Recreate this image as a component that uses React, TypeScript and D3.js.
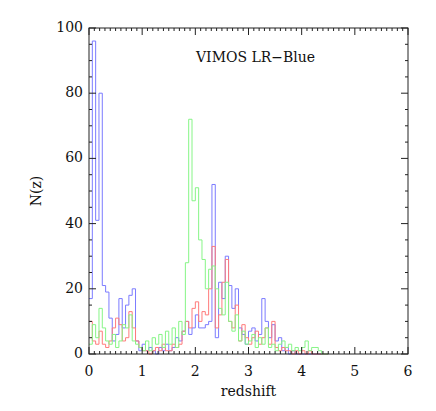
import React from "react";
import * as d3 from "d3";

const binWidth = 0.0625;

const blueCounts = [
  17, 96, 41, 80, 21, 19, 11, 4, 6, 17, 8, 15, 18, 20, 4, 1, 3, 1, 2, 1, 0, 2, 1, 3, 1, 2, 5, 4, 7, 10,
  6, 8, 12, 8, 8, 9, 10, 52, 5, 22, 17, 30, 21, 14, 20, 8, 6, 3, 7, 8, 4, 6, 17, 10, 5, 9, 4, 5, 1, 2,
  0, 1, 0, 0, 0, 0, 0, 0, 0, 0, 0, 0,
];
const redCounts = [
  10, 4, 3, 7, 3, 2, 4, 8, 11, 9, 4, 5, 13, 8, 4, 2, 1, 1, 0, 1, 2, 1, 3, 1, 1, 3, 2, 3, 7, 10,
  8, 14, 16, 10, 13, 12, 20, 33, 8, 12, 22, 29, 10, 8, 15, 4, 9, 5, 3, 5, 7, 3, 5, 8, 3, 10, 2, 1, 2, 1,
  1, 0, 1, 0, 1, 0, 1, 0, 0, 0, 0, 0,
];
const greenCounts = [
  3, 9, 5, 14, 8, 4, 3, 6, 2, 4, 9, 8, 12, 4, 3, 2, 1, 4, 1, 5, 3, 6, 2, 7, 3, 8, 2, 10, 6, 28,
  72, 47, 51, 35, 29, 20, 26, 27, 20, 14, 12, 22, 10, 7, 12, 4, 7, 3, 4, 6, 2, 5, 3, 8, 2, 3, 1, 3, 4, 2,
  3, 1, 2, 1, 2, 4, 1, 2, 2, 1, 0, 0,
];

const xTicks = [0, 1, 2, 3, 4, 5, 6];
const yTicks = [0, 20, 40, 60, 80, 100];

const W = 436;
const H = 411;
const margin = { left: 89, right: 28, top: 28, bottom: 57 };

const series = [
  { name: "blue", counts: blueCounts, color: "#7b7bff" },
  { name: "red", counts: redCounts, color: "#ff7b7b" },
  { name: "green", counts: greenCounts, color: "#86f586" },
];

export default function App() {
  const x = d3.scaleLinear().domain([0, 6]).range([margin.left, W - margin.right]);
  const y = d3.scaleLinear().domain([0, 100]).range([H - margin.bottom, margin.top]);

  const line = d3
    .line<[number, number]>()
    .x((d) => x(d[0]))
    .y((d) => y(d[1]))
    .curve(d3.curveStepAfter);

  const stepPath = (counts: number[]) => {
    const pts: [number, number][] = counts.map((c, i) => [i * binWidth, c]);
    pts.push([counts.length * binWidth, counts[counts.length - 1]]);
    return line(pts) || "";
  };

  const x0 = x(0);
  const x1 = x(6);
  const y0 = y(0);
  const y1 = y(100);
  const minorX = d3.range(0, 60.5, 1).map((d) => d / 10);
  const minorY = d3.range(0, 101, 5);
  const font = "'DejaVu Serif', serif";
  const axisColor = "#222";

  return (
    <div style={{ position: "absolute", left: 0, top: 0 }}>
      <svg width={W} height={H} style={{ display: "block", background: "#fff" }}>
        {series.map((s) => (
          <path key={s.name} d={stepPath(s.counts)} fill="none" stroke={s.color} strokeWidth={1} />
        ))}

        <rect x={x0} y={y1} width={x1 - x0} height={y0 - y1} fill="none" stroke={axisColor} strokeWidth={1} />

        {minorX.map((t) => {
          const major = Math.abs(t - Math.round(t)) < 1e-6;
          const len = major ? 7 : 3;
          return (
            <g key={"xt" + t}>
              <line x1={x(t)} x2={x(t)} y1={y0} y2={y0 - len} stroke={axisColor} />
              <line x1={x(t)} x2={x(t)} y1={y1} y2={y1 + len} stroke={axisColor} />
            </g>
          );
        })}
        {minorY.map((t) => {
          const major = t % 20 === 0;
          const len = major ? 7 : 3;
          return (
            <g key={"yt" + t}>
              <line x1={x0} x2={x0 + len} y1={y(t)} y2={y(t)} stroke={axisColor} />
              <line x1={x1} x2={x1 - len} y1={y(t)} y2={y(t)} stroke={axisColor} />
            </g>
          );
        })}

        {xTicks.map((t) => (
          <text key={"xl" + t} x={x(t)} y={376} textAnchor="middle" fontFamily={font} fontSize={14} fill="#111">
            {t}
          </text>
        ))}
        {yTicks.map((t) => (
          <text key={"yl" + t} x={x0 - 6} y={y(t) + 4} textAnchor="end" fontFamily={font} fontSize={14} fill="#111">
            {t}
          </text>
        ))}

        <text x={(x0 + x1) / 2} y={396} textAnchor="middle" fontFamily={font} fontSize={14} fill="#111">
          redshift
        </text>
        <text
          transform={`translate(41, ${(y0 + y1) / 2}) rotate(-90)`}
          textAnchor="middle"
          fontFamily={font}
          fontSize={14}
          fill="#111"
        >
          N(z)
        </text>
        <text x={196} y={62} fontFamily={font} fontSize={14} fill="#111">
          VIMOS LR−Blue
        </text>
      </svg>
    </div>
  );
}
